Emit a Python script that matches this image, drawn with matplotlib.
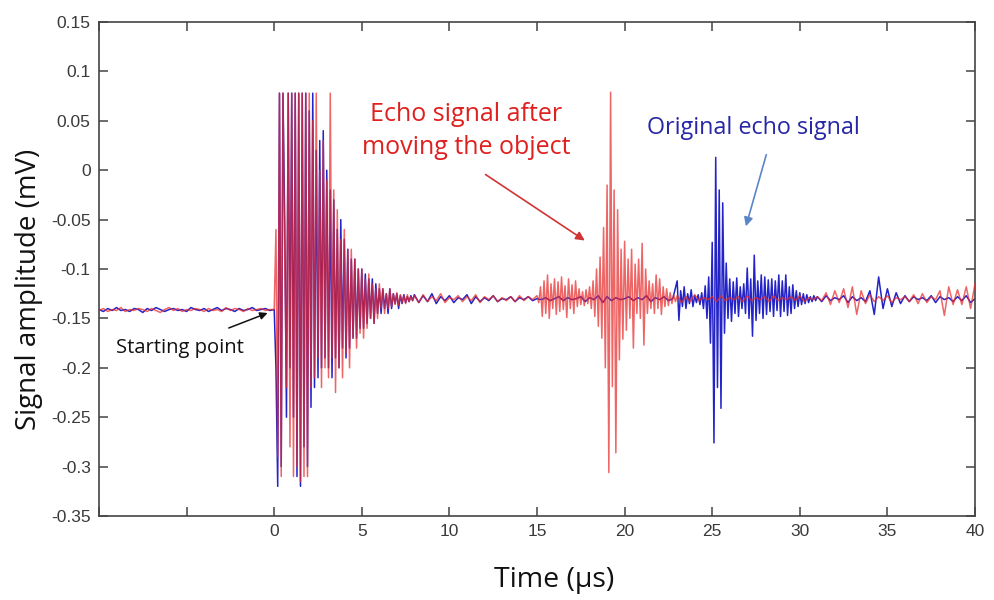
import numpy as np
import matplotlib

matplotlib.use("Agg")

import matplotlib.pyplot as plt  # noqa: E402

plt.rcParams["axes.unicode_minus"] = False

# time segments: (start time in us, step in us)
seg_starts_blue = [-10.0, 0.0, 8.0, 23.0, 31.0]
seg_steps_blue = [0.25, 0.1, 0.25, 0.1, 0.25]
seg_starts_red = [-10.0, 0.0, 8.0, 15.0, 23.0]
seg_steps_red = [0.25, 0.1, 0.25, 0.1, 0.25]

# original echo signal (blue), mV
blue_pre = [-0.141, -0.143, -0.140, -0.142, -0.139, -0.142, -0.141, -0.143, -0.140, -0.141,
            -0.144, -0.140, -0.142, -0.139, -0.141, -0.143, -0.141, -0.140, -0.142, -0.141,
            -0.143, -0.139, -0.141, -0.142, -0.140, -0.143, -0.141, -0.139, -0.142, -0.140,
            -0.141, -0.143, -0.140, -0.142, -0.141, -0.139, -0.142, -0.141, -0.140, -0.142]
blue_burst = [-0.141, -0.20, -0.32, 0.078, -0.30, 0.078, -0.05, -0.25, 0.078, -0.20,
              0.078, -0.25, 0.078, -0.31, 0.078, -0.32, 0.078, -0.28, 0.078, -0.30,
              0.06, -0.24, 0.078, -0.22, 0.02, -0.21, 0.03, -0.20, 0.04, -0.19,
              0.00, -0.20, -0.02, -0.21, -0.03, -0.19, -0.06, -0.20, -0.05, -0.18,
              -0.07, -0.19, -0.08, -0.18, -0.09, -0.17, -0.09, -0.17, -0.10, -0.16,
              -0.10, -0.16, -0.105, -0.155, -0.11, -0.15, -0.11, -0.155, -0.115, -0.145,
              -0.12, -0.145, -0.12, -0.14, -0.125, -0.145, -0.12, -0.14, -0.125, -0.135,
              -0.125, -0.14, -0.127, -0.135, -0.126, -0.134, -0.128, -0.133, -0.127, -0.132]
blue_quiet = [-0.126, -0.134, -0.127, -0.133, -0.125, -0.135, -0.128, -0.132,
              -0.127, -0.134, -0.129, -0.131, -0.126, -0.135, -0.128, -0.133,
              -0.129, -0.132, -0.127, -0.133, -0.130, -0.131, -0.128, -0.133,
              -0.129, -0.131, -0.128, -0.132, -0.130, -0.131, -0.129, -0.132,
              -0.130, -0.128, -0.132, -0.129, -0.131, -0.130, -0.128, -0.133,
              -0.129, -0.131, -0.127, -0.134, -0.128, -0.132, -0.129, -0.131,
              -0.130, -0.128, -0.132, -0.129, -0.131, -0.127, -0.133, -0.129,
              -0.131, -0.128, -0.132, -0.130]
blue_echo = [-0.112, -0.152, -0.122, -0.138, -0.118, -0.140, -0.125, -0.135, -0.121, -0.138,
             -0.127, -0.134, -0.126, -0.136, -0.124, -0.140, -0.117, -0.150, -0.108, -0.175,
             -0.073, -0.276, 0.013, -0.22, -0.02, -0.241, -0.033, -0.165, -0.094, -0.150,
             -0.110, -0.153, -0.113, -0.145, -0.109, -0.148, -0.118, -0.140, -0.115, -0.145,
             -0.099, -0.150, -0.110, -0.168, -0.086, -0.152, -0.112, -0.145, -0.106, -0.150,
             -0.108, -0.146, -0.111, -0.143, -0.110, -0.148, -0.112, -0.142, -0.106, -0.148,
             -0.112, -0.143, -0.106, -0.147, -0.118, -0.145, -0.116, -0.140, -0.122, -0.138,
             -0.124, -0.136, -0.125, -0.135, -0.126, -0.134, -0.128, -0.133, -0.127, -0.132]
blue_tail = [-0.128, -0.133, -0.127, -0.132, -0.129, -0.131, -0.127, -0.134,
             -0.128, -0.132, -0.129, -0.133, -0.122, -0.146, -0.108, -0.140,
             -0.120, -0.138, -0.124, -0.135, -0.127, -0.133, -0.128, -0.131,
             -0.129, -0.132, -0.127, -0.134, -0.128, -0.131, -0.129, -0.133,
             -0.128, -0.132, -0.127, -0.134, -0.130]

# echo signal after moving the object (red), mV
red_pre = [-0.142, -0.140, -0.143, -0.141, -0.142, -0.139, -0.143, -0.141, -0.142, -0.140,
           -0.141, -0.143, -0.140, -0.142, -0.144, -0.141, -0.139, -0.142, -0.140, -0.143,
           -0.141, -0.142, -0.140, -0.141, -0.143, -0.140, -0.142, -0.141, -0.143, -0.139,
           -0.142, -0.140, -0.141, -0.143, -0.140, -0.142, -0.141, -0.140, -0.142, -0.141]
red_burst = [-0.141, -0.06, -0.29, 0.078, -0.31, 0.078, -0.09, -0.22, 0.078, -0.28,
             0.078, -0.31, 0.078, -0.30, 0.078, -0.315, 0.078, -0.31, 0.078, -0.31,
             0.078, -0.22, 0.05, -0.21, 0.078, -0.19, 0.00, -0.22, 0.03, -0.20,
             -0.01, -0.21, 0.078, -0.19, -0.02, -0.225, -0.04, -0.20, -0.07, -0.21,
             -0.06, -0.185, -0.08, -0.20, -0.08, -0.17, -0.09, -0.18, -0.10, -0.165,
             -0.10, -0.17, -0.11, -0.16, -0.105, -0.15, -0.115, -0.155, -0.12, -0.15,
             -0.115, -0.14, -0.12, -0.145, -0.125, -0.14, -0.12, -0.138, -0.125, -0.136,
             -0.124, -0.137, -0.126, -0.134, -0.127, -0.135, -0.126, -0.133, -0.128, -0.132]
red_quiet = [-0.127, -0.134, -0.126, -0.133, -0.128, -0.132, -0.125, -0.134,
             -0.129, -0.131, -0.127, -0.133, -0.128, -0.132, -0.126, -0.134,
             -0.128, -0.131, -0.127, -0.133, -0.129, -0.132, -0.128, -0.133,
             -0.127, -0.132, -0.128, -0.131]
red_echo = [-0.127, -0.134, -0.118, -0.148, -0.112, -0.145, -0.106, -0.150, -0.115, -0.140,
            -0.110, -0.146, -0.113, -0.143, -0.108, -0.141, -0.117, -0.149, -0.110, -0.140,
            -0.116, -0.145, -0.112, -0.138, -0.120, -0.136, -0.123, -0.137, -0.121, -0.135,
            -0.118, -0.140, -0.112, -0.148, -0.100, -0.158, -0.088, -0.170, -0.058, -0.200,
            -0.015, -0.306, 0.079, -0.219, -0.020, -0.286, -0.040, -0.192, -0.080, -0.171,
            -0.072, -0.162, -0.090, -0.150, -0.080, -0.180, -0.095, -0.145, -0.090, -0.150,
            -0.074, -0.177, -0.100, -0.145, -0.112, -0.140, -0.115, -0.145, -0.106, -0.140,
            -0.110, -0.146, -0.118, -0.138, -0.120, -0.137, -0.124, -0.135, -0.126, -0.133]
red_tail = [-0.127, -0.134, -0.128, -0.133, -0.126, -0.132, -0.129, -0.131,
            -0.128, -0.133, -0.127, -0.132, -0.129, -0.131, -0.128, -0.133,
            -0.127, -0.132, -0.129, -0.131, -0.128, -0.133, -0.127, -0.132,
            -0.129, -0.131, -0.128, -0.132, -0.127, -0.133, -0.129, -0.131,
            -0.128, -0.132, -0.124, -0.136, -0.122, -0.134, -0.120, -0.139,
            -0.118, -0.146, -0.122, -0.135, -0.126, -0.133, -0.128, -0.132,
            -0.127, -0.134, -0.129, -0.131, -0.128, -0.133, -0.126, -0.135,
            -0.125, -0.134, -0.128, -0.131, -0.122, -0.147, -0.118, -0.136,
            -0.121, -0.136, -0.118, -0.140, -0.115]

x_ticks = [-10, -5, 0, 5, 10, 15, 20, 25, 30, 35, 40]
x_tick_labels = ["", "", "0", "5", "10", "15", "20", "25", "30", "35", "40"]
y_ticks = [0.15, 0.1, 0.05, 0, -0.05, -0.1, -0.15, -0.2, -0.25, -0.3, -0.35]
y_tick_labels = ["0.15", "0.1", "0.05", "0", "-0.05", "-0.1", "-0.15", "-0.2", "-0.25", "-0.3", "-0.35"]


def build(starts, steps, segments):
    ts, vs = [], []
    for t0, dt, vals in zip(starts, steps, segments):
        ts.append(t0 + dt * np.arange(len(vals)))
        vs.append(np.array(vals))
    return np.concatenate(ts), np.concatenate(vs)


t_blue, v_blue = build(seg_starts_blue, seg_steps_blue,
                       [blue_pre, blue_burst, blue_quiet, blue_echo, blue_tail])
t_red, v_red = build(seg_starts_red, seg_steps_red,
                     [red_pre, red_burst, red_quiet, red_echo, red_tail])

fig = plt.figure(figsize=(9.94, 6.0), dpi=100)
ax = fig.add_axes([0.0996, 0.14, 0.8813, 0.8233])

ax.plot(t_blue, v_blue, color="#2323c8", linewidth=1.1, zorder=2)
ax.plot(t_red, v_red, color="#e82a2a", linewidth=1.1, alpha=0.72, zorder=3)

ax.set_xlim(-10, 40)
ax.set_ylim(-0.35, 0.15)
ax.set_xticks(x_ticks)
ax.set_xticklabels(x_tick_labels)
ax.set_yticks(y_ticks)
ax.set_yticklabels(y_tick_labels)
ax.tick_params(direction="in", length=6.5, width=1.1, color="#444444",
               labelsize=12.5, labelcolor="#3a3a3a", top=True, right=True, pad=6)
for lab in ax.get_xticklabels() + ax.get_yticklabels():
    lab.set_family("Liberation Sans")
for sp in ax.spines.values():
    sp.set_color("#444444")
    sp.set_linewidth(1.2)

fig.text(0.029, 0.518, "Signal amplitude (mV)", rotation=90, ha="center", va="center",
         fontsize=20, family="Open Sans", color="#111111")
fig.text(0.557, 0.033, "Time (\u03bcs)", ha="center", va="center",
         fontsize=20.5, family="Open Sans", color="#111111")

ax.text(10.96, 0.0397, "Echo signal after\nmoving the object", ha="center", va="center",
        fontsize=18, family="Open Sans", color="#e01f1f", linespacing=1.45, zorder=5)
ax.annotate("", xy=(17.86, -0.0727), xytext=(11.93, -0.0028),
            arrowprops=dict(arrowstyle="-|>", color="#d03434", lw=1.2, mutation_scale=13))

ax.text(27.33, 0.0427, "Original echo signal", ha="center", va="center",
        fontsize=16.8, family="Open Sans", color="#2626a6", zorder=5)
ax.annotate("", xy=(26.88, -0.0595), xytext=(28.13, 0.0184),
            arrowprops=dict(arrowstyle="-|>", color="#5a86c8", lw=1.2, mutation_scale=13))

ax.text(-5.36, -0.180, "Starting point", ha="center", va="center",
        fontsize=14.5, family="Open Sans", color="#111111", zorder=5)
ax.annotate("", xy=(-0.23, -0.1435), xytext=(-2.74, -0.1607),
            arrowprops=dict(arrowstyle="-|>", color="#111111", lw=1.1, mutation_scale=11))

fig.savefig("out.png", dpi=100)
